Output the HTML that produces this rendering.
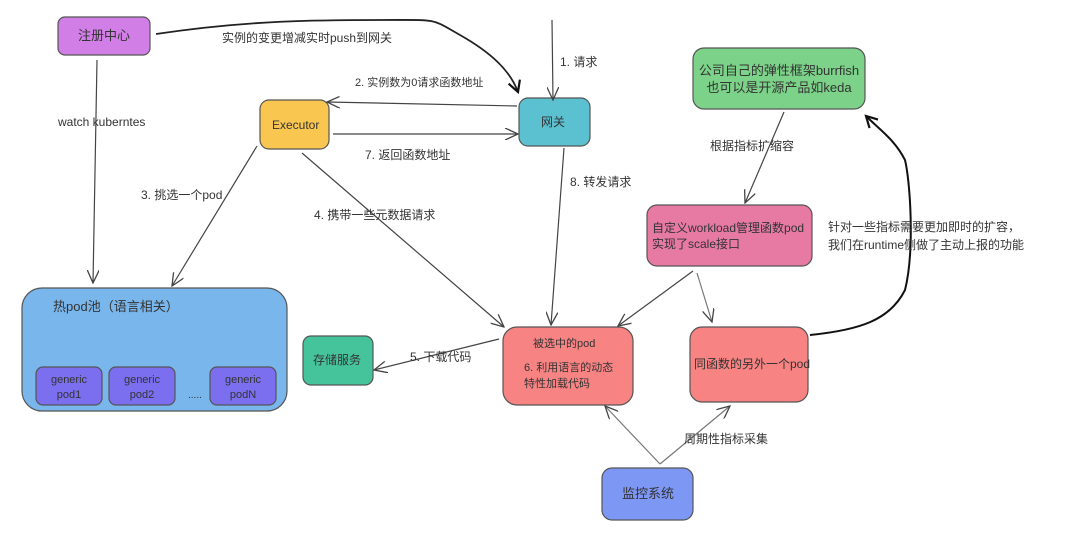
<!DOCTYPE html>
<html><head><meta charset="utf-8"><style>
body{margin:0;background:#fff;width:1080px;height:532px;overflow:hidden}
svg text{font-family:"Liberation Sans","Noto Sans CJK SC",sans-serif;fill:#333}
</style></head><body>
<svg width="1080" height="532" viewBox="0 0 1080 532">
<defs>
<marker id="a" markerWidth="14" markerHeight="12" refX="13" refY="6" orient="auto" markerUnits="userSpaceOnUse"><path d="M0,0 L13,6 L0,12" fill="none" stroke="#444" stroke-width="1.3"/></marker>
<marker id="b" markerWidth="14" markerHeight="14" refX="12" refY="7" orient="auto" markerUnits="userSpaceOnUse"><path d="M1,1 L12,7 L1,13" fill="none" stroke="#111" stroke-width="2.2"/></marker>
</defs>
<g stroke="#555" stroke-width="1.2">
<rect x="58" y="17" width="92" height="38" rx="7" fill="#d17ee6"/>
<rect x="260" y="100" width="69" height="49" rx="9" fill="#f9c74f"/>
<rect x="519" y="98" width="71" height="48" rx="9" fill="#5bc0d0"/>
<rect x="693" y="48" width="172" height="61" rx="11" fill="#7bd288"/>
<rect x="647" y="205" width="165" height="61" rx="10" fill="#e77aa3"/>
<rect x="22" y="288" width="265" height="123" rx="20" fill="#78b6ec"/>
<rect x="36" y="367" width="66" height="38" rx="7" fill="#7b6ff0"/>
<rect x="109" y="367" width="66" height="38" rx="7" fill="#7b6ff0"/>
<rect x="210" y="367" width="66" height="38" rx="7" fill="#7b6ff0"/>
<rect x="303" y="336" width="70" height="49" rx="8" fill="#45c49c"/>
<rect x="503" y="327" width="130" height="78" rx="14" fill="#f88383"/>
<rect x="690" y="327" width="118" height="75" rx="12" fill="#f88383"/>
<rect x="602" y="468" width="91" height="52" rx="10" fill="#7d97f5"/>
</g>
<g fill="none" stroke="#444" stroke-width="1.2" marker-end="url(#a)">
<path d="M97,60 L93,283"/>
<path d="M257,146 L172,286"/>
<path d="M302,153 L504,327"/>
<path d="M552,20 L553,100"/>
<path d="M517,106 L327,102"/>
<path d="M333,134 L518,134"/>
<path d="M564,148 L551,325"/>
<path d="M499,339 L374,370"/>
<path d="M784,112 L745,203"/>
<path d="M693,271 L618,326"/>
<path d="M697,273 L712,322" stroke="#777"/>
<path d="M660,464 L605,406" stroke="#777"/>
<path d="M660,464 L730,406" stroke="#777"/>
</g>
<path d="M156,34 C250,20 320,20 380,20 S430,18 460,35 S510,70 518,92" fill="none" stroke="#222" stroke-width="1.8" marker-end="url(#b)"/>
<path d="M810,335 C860,330 890,320 905,290 C915,250 910,180 905,160 C895,140 880,130 866,116" fill="none" stroke="#111" stroke-width="2" marker-end="url(#b)"/>
<g font-size="12">
<text x="78" y="40" font-size="13">注册中心</text>
<text x="272" y="129" font-size="12">Executor</text>
<text x="541" y="126" font-size="12">网关</text>
<text x="779" y="75" text-anchor="middle" font-size="13">公司自己的弹性框架burrfish</text>
<text x="779" y="92" text-anchor="middle" font-size="13">也可以是开源产品如keda</text>
<text x="652" y="232" font-size="12">自定义workload管理函数pod</text>
<text x="652" y="248" font-size="12">实现了scale接口</text>
<text x="53" y="311" font-size="13">热pod池（语言相关）</text>
<text x="69" y="383" text-anchor="middle" fill="#eee" font-size="11">generic</text><text x="69" y="398" text-anchor="middle" fill="#eee" font-size="11">pod1</text>
<text x="142" y="383" text-anchor="middle" fill="#eee" font-size="11">generic</text><text x="142" y="398" text-anchor="middle" fill="#eee" font-size="11">pod2</text>
<text x="243" y="383" text-anchor="middle" fill="#eee" font-size="11">generic</text><text x="243" y="398" text-anchor="middle" fill="#eee" font-size="11">podN</text>
<text x="188" y="398" font-size="10">.....</text>
<text x="313" y="364" font-size="12">存储服务</text>
<text x="533" y="347" font-size="11">被选中的pod</text>
<text x="524" y="371" font-size="11">6. 利用语言的动态</text>
<text x="524" y="387" font-size="11">特性加载代码</text>
<text x="694" y="368" font-size="12">同函数的另外一个pod</text>
<text x="622" y="498" font-size="13">监控系统</text>
<text x="222" y="42" fill="#666">实例的变更增减实时push到网关</text>
<text x="58" y="126" fill="#555">watch kuberntes</text>
<text x="355" y="86" font-size="11">2. 实例数为0请求函数地址</text>
<text x="365" y="159">7. 返回函数地址</text>
<text x="141" y="199">3. 挑选一个pod</text>
<text x="314" y="219">4. 携带一些元数据请求</text>
<text x="560" y="66">1. 请求</text>
<text x="570" y="186">8. 转发请求</text>
<text x="410" y="361">5. 下载代码</text>
<text x="710" y="150" fill="#555">根据指标扩缩容</text>
<text x="828" y="231">针对一些指标需要更加即时的扩容，</text>
<text x="828" y="249">我们在runtime侧做了主动上报的功能</text>
<text x="684" y="443" fill="#666">周期性指标采集</text>
</g>
</svg>
</body></html>
